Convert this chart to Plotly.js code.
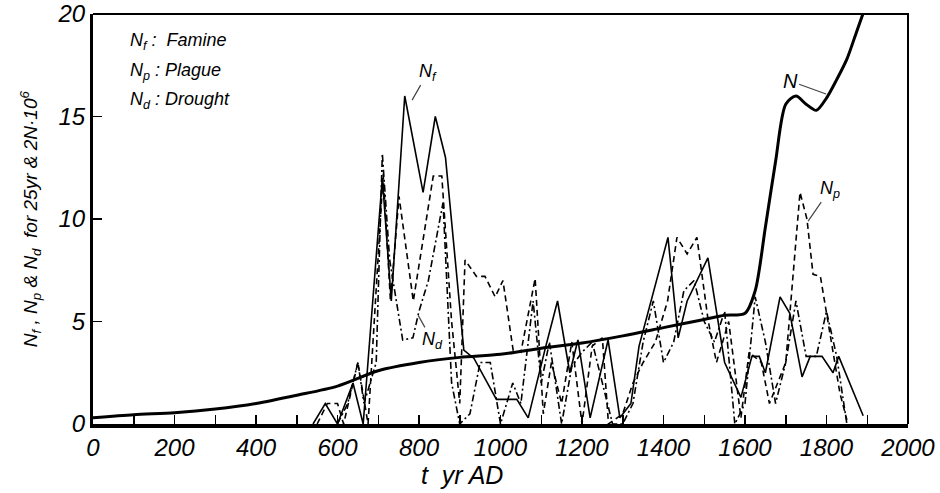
<!DOCTYPE html>
<html><head><meta charset="utf-8">
<script src="https://cdn.plot.ly/plotly-3.0.1.min.js"></script>
<style>body{margin:0;background:#fff}#c{width:940px;height:493px}</style>
</head><body><div id="c"></div>
<script>
// Population N (2N·10^6)
const nYears = [0, 100, 200, 300, 400, 500, 600, 700, 800, 900, 1000, 1100, 1200, 1300, 1400, 1500, 1550, 1600, 1625, 1650, 1675, 1700, 1725, 1750, 1775, 1800, 1825, 1850, 1875, 1900];
const nVals  = [0.3, 0.45, 0.55, 0.73, 1.0, 1.4, 1.85, 2.6, 3.0, 3.25, 3.4, 3.7, 3.95, 4.3, 4.7, 5.1, 5.3, 5.4, 6.5, 9.6, 12.8, 15.6, 16.0, 15.6, 15.3, 15.9, 16.8, 17.8, 19.2, 20.6];
// Famine Nf
const nfYears = [540, 570, 600, 638, 663, 710, 732, 765, 810, 840, 865, 910, 935, 990, 1040, 1068, 1110, 1140, 1170, 1190, 1220, 1264, 1293, 1320, 1340, 1411, 1436, 1458, 1509, 1550, 1590, 1617, 1635, 1650, 1686, 1710, 1740, 1760, 1789, 1816, 1830, 1890];
const nfVals  = [0, 1, 0, 2, 0, 12, 6, 16, 11.3, 15, 13, 3.6, 3.2, 1.2, 1.2, 0.3, 3.7, 6, 2.5, 4.1, 0.3, 4.1, 0.3, 1, 3.8, 9.1, 4.2, 6, 8.1, 3, 1.3, 3.3, 3.3, 2.5, 6.2, 5.4, 2.3, 3.3, 3.3, 2.5, 3.3, 0.4];
// Plague Np
const npYears = [550, 575, 600, 615, 650, 675, 712, 730, 751, 786, 835, 856, 880, 900, 913, 941, 962, 987, 1006, 1031, 1050, 1085, 1105, 1125, 1150, 1175, 1200, 1225, 1250, 1265, 1300, 1325, 1350, 1380, 1410, 1433, 1458, 1482, 1510, 1530, 1560, 1590, 1610, 1640, 1660, 1700, 1735, 1752, 1767, 1785, 1833, 1850];
const npVals  = [0, 1, 1, 0, 3, 0, 12.2, 6, 11.1, 6, 12.1, 12.1, 5, 1, 8, 7.2, 7.2, 6.2, 7, 3.6, 3.5, 7.1, 0.5, 3, 1, 4, 0, 3.8, 4.2, 0, 0.5, 2, 3, 4, 6, 9.1, 8.3, 9.1, 5, 3, 5, 0.3, 3.5, 3, 1, 3, 11.3, 10, 7.3, 7.2, 1.5, 0.2];
// Drought Nd
const ndYears = [600, 625, 650, 665, 695, 710, 728, 760, 785, 800, 823, 859, 880, 900, 925, 950, 975, 1000, 1030, 1050, 1080, 1100, 1120, 1150, 1175, 1200, 1225, 1250, 1275, 1300, 1325, 1350, 1375, 1400, 1425, 1450, 1475, 1500, 1525, 1550, 1575, 1600, 1625, 1650, 1675, 1700, 1725, 1750, 1775, 1800, 1825, 1850];
const ndVals  = [0, 1, 3, 1, 3, 13.2, 8, 4.1, 4.2, 5.5, 7, 10.8, 2, 0, 0.5, 3, 3, 0, 2, 1, 6, 2, 4, 0, 2.8, 3.5, 4, 2, 0, 0, 1, 4, 6, 3, 4, 6.5, 7, 5, 4, 5.5, 0, 1, 6.2, 4, 1, 3, 6, 3.3, 3.3, 5.5, 3.3, 0];

const xTicks = [0, 200, 400, 600, 800, 1000, 1200, 1400, 1600, 1800, 2000];
const yTicks = [0, 5, 10, 15, 20];

const F = 'Liberation Sans, Arial, sans-serif';
const italic = (size) => ({family: F, size: size, color: '#000', style: 'italic'});

const traces = [
  {x: nYears, y: nVals, mode: 'lines', line: {color: '#000', width: 3, shape: 'spline', smoothing: 0.8}, name: 'N'},
  {x: nfYears, y: nfVals, mode: 'lines', line: {color: '#000', width: 1.6}, name: 'Nf'},
  {x: npYears, y: npVals, mode: 'lines', line: {color: '#000', width: 1.6, dash: '6px,4px'}, name: 'Np'},
  {x: ndYears, y: ndVals, mode: 'lines', line: {color: '#000', width: 1.6, dash: '7px,3px,2px,3px'}, name: 'Nd'}
];

const layout = {
  width: 940, height: 493,
  margin: {l: 93, r: 32, t: 14, b: 69},
  paper_bgcolor: '#fff', plot_bgcolor: '#fff',
  showlegend: false,
  xaxis: {
    range: [0, 2000], tickvals: xTicks, ticktext: xTicks.map(String),
    ticks: 'inside', ticklen: 9, tickwidth: 1.5, tickcolor: '#000',
    minor: {dtick: 100, ticks: 'inside', ticklen: 9, tickwidth: 1.5, tickcolor: '#000'},
    showline: true, linewidth: 3.5, linecolor: '#000',
    showgrid: false, zeroline: false, tickfont: italic(24)
  },
  yaxis: {
    range: [0, 20], tickvals: yTicks, ticktext: yTicks.map(String),
    ticks: 'inside', ticklen: 9, tickwidth: 1.5, tickcolor: '#000',
    showline: true, linewidth: 3, linecolor: '#000',
    showgrid: false, zeroline: false, tickfont: italic(24)
  },
  shapes: [
    {type: 'path', xref: 'paper', yref: 'paper', path: 'M 0 1 L 1 1 L 1 0', line: {color: '#000', width: 2}}
  ],
  annotations: [
    {xref: 'paper', yref: 'paper', x: 0.043, y: 0.932, xanchor: 'left', yanchor: 'middle', showarrow: false, text: 'N<sub>f</sub> :  Famine', font: italic(18)},
    {xref: 'paper', yref: 'paper', x: 0.043, y: 0.859, xanchor: 'left', yanchor: 'middle', showarrow: false, text: 'N<sub>p</sub> : Plague', font: italic(18)},
    {xref: 'paper', yref: 'paper', x: 0.043, y: 0.790, xanchor: 'left', yanchor: 'middle', showarrow: false, text: 'N<sub>d</sub> : Drought', font: italic(18)},
    {x: 783, y: 15.8, ax: 16, ay: -28, text: 'N<sub>f</sub>', showarrow: true, arrowhead: 0, arrowwidth: 1.2, font: italic(18)},
    {x: 1799, y: 16.1, ax: -36, ay: -13, text: 'N', showarrow: true, arrowhead: 0, arrowwidth: 1.2, font: italic(20)},
    {x: 1755, y: 9.9, ax: 22, ay: -32, text: 'N<sub>p</sub>', showarrow: true, arrowhead: 0, arrowwidth: 1.2, font: italic(18)},
    {x: 798, y: 5.3, ax: 14, ay: 25, text: 'N<sub>d</sub>', showarrow: true, arrowhead: 0, arrowwidth: 1.2, font: italic(18)},
    {xref: 'paper', yref: 'paper', x: 0.453, y: -0.124, xanchor: 'center', yanchor: 'middle', showarrow: false, text: 't  yr AD', font: italic(25)},
    {xref: 'paper', yref: 'paper', x: -0.077, y: 0.5, xanchor: 'center', yanchor: 'middle', textangle: -90, showarrow: false, text: 'N<sub>f</sub> , N<sub>p</sub> & N<sub>d</sub>  for 25yr & 2N·10<sup>6</sup>', font: italic(19)}
  ]
};

Plotly.newPlot('c', traces, layout, {staticPlot: true, displayModeBar: false});
</script>
</body></html>
